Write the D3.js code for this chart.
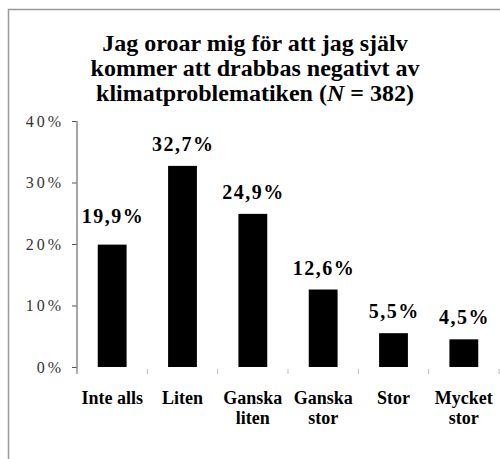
<!DOCTYPE html>
<html>
<head>
<meta charset="utf-8">
<script src="https://cdn.jsdelivr.net/npm/d3@7"></script>
<style>
  body { margin: 0; background: #fff; }
  svg text { font-family: 'Liberation Serif', 'DejaVu Serif', serif; }
</style>
</head>
<body>
<svg id="chart"></svg>
<script>
// data
const categories = ['Inte alls', 'Liten', 'Ganska liten', 'Ganska stor', 'Stor', 'Mycket stor'];
const categoryLines = [['Inte alls'], ['Liten'], ['Ganska', 'liten'], ['Ganska', 'stor'], ['Stor'], ['Mycket', 'stor']];
const shares = [19.9, 32.7, 24.9, 12.6, 5.5, 4.5];
const yTicks = [0, 10, 20, 30, 40];
const titleLines = ['Jag oroar mig för att jag själv', 'kommer att drabbas negativt av'];

const width = 500;
const height = 459;
const serif = "'Liberation Serif', 'DejaVu Serif', serif";

const svg = d3.select('#chart')
  .attr('width', width)
  .attr('height', height);

svg.append('rect').attr('width', width).attr('height', height).attr('fill', '#fff');

// outer frame (only top and left visible)
svg.append('path')
  .attr('d', `M${width},9.5H8.5V${height}`)
  .attr('fill', 'none')
  .attr('stroke', '#999')
  .attr('stroke-width', 1.5);

const x = d3.scaleBand()
  .domain(categories)
  .range([77, 499])
  .padding(0);

const y = d3.scaleLinear()
  .domain([0, 40])
  .range([367, 121]);

// title
const title = svg.append('text')
  .attr('text-anchor', 'middle')
  .attr('font-family', serif)
  .attr('font-size', 24)
  .attr('font-weight', 'bold')
  .attr('fill', '#000');

titleLines.forEach((t, i) => {
  title.append('tspan').attr('x', 255).attr('y', 51 + i * 25).text(t);
});
const last = title.append('tspan').attr('x', 255).attr('y', 101);
last.append('tspan').text('klimatproblematiken (');
last.append('tspan').attr('font-style', 'italic').text('N');
last.append('tspan').text(' = 382)');

// y axis
const yAxis = d3.axisLeft(y)
  .tickValues(yTicks)
  .tickFormat(d => d + '%')
  .tickSize(5)
  .tickSizeOuter(0)
  .tickPadding(8);

const gy = svg.append('g')
  .attr('transform', `translate(${x.range()[0]},0)`)
  .call(yAxis);

gy.select('.domain').remove();
gy.selectAll('.tick line').attr('stroke', '#555');
gy.selectAll('.tick text')
  .attr('font-size', 16)
  .attr('font-family', serif)
  .attr('letter-spacing', 3)
  .attr('fill', '#333');

gy.append('line')
  .attr('y1', y(40))
  .attr('y2', y(0) + 7)
  .attr('stroke', '#888')
  .attr('stroke-width', 1.5);

// x ticks at category boundaries
const edges = categories.map(c => x(c)).concat([x.range()[1]]);
svg.append('g')
  .selectAll('line')
  .data(edges)
  .join('line')
  .attr('x1', d => d)
  .attr('x2', d => d)
  .attr('y1', y(0) + 2)
  .attr('y2', y(0) + 7)
  .attr('stroke', '#bbb');

// bars
const barW = x.bandwidth() * 0.41;
svg.append('g')
  .selectAll('rect')
  .data(shares)
  .join('rect')
  .attr('x', (d, i) => x(categories[i]) + (x.bandwidth() - barW) / 2)
  .attr('y', d => y(d))
  .attr('width', barW)
  .attr('height', d => y(0) - y(d))
  .attr('fill', '#000');

// value labels
const fmt = d => d3.format('.1f')(d).replace('.', ',') + '%';
svg.append('g')
  .selectAll('text')
  .data(shares)
  .join('text')
  .attr('x', (d, i) => x(categories[i]) + x.bandwidth() / 2 + 0.75)
  .attr('y', (d, i) => y(d) - (i === 0 ? 22 : 15))
  .attr('text-anchor', 'middle')
  .attr('font-family', serif)
  .attr('font-size', 20)
  .attr('font-weight', 'bold')
  .attr('letter-spacing', 1.5)
  .attr('fill', '#000')
  .text(fmt);

// category labels
const xl = svg.append('g')
  .selectAll('text')
  .data(categoryLines)
  .join('text')
  .attr('text-anchor', 'middle')
  .attr('font-family', serif)
  .attr('font-size', 18)
  .attr('font-weight', 'bold')
  .attr('fill', '#000');

xl.each(function(lines, i) {
  const cx = x(categories[i]) + x.bandwidth() / 2;
  d3.select(this).selectAll('tspan')
    .data(lines)
    .join('tspan')
    .attr('x', cx)
    .attr('y', (d, j) => 404 + j * 20)
    .text(d => d);
});
</script>
</body>
</html>
